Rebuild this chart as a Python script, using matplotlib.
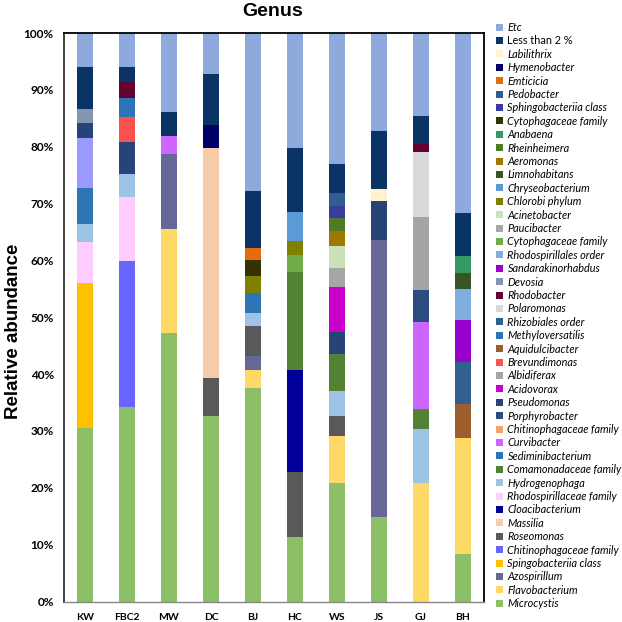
import matplotlib
matplotlib.use("Agg")
import matplotlib.pyplot as plt
from matplotlib.patches import Patch

samples = ["KW", "FBC2", "MW", "DC", "BJ", "HC", "WS", "JS", "GJ", "BH"]

# Legend entries (top to bottom) and colours
legend_keys = [
    "Etc", "Less than 2 %", "Labilithrix", "Hymenobacter", "Emticicia", "Pedobacter",
    "Sphingobacteriia class", "Cytophagaceae family#1", "Anabaena", "Rheinheimera",
    "Aeromonas", "Limnohabitans", "Chryseobacterium", "Chlorobi phylum", "Acinetobacter",
    "Paucibacter", "Cytophagaceae family#2", "Rhodospirillales order", "Sandarakinorhabdus",
    "Devosia", "Rhodobacter", "Polaromonas", "Rhizobiales order", "Methyloversatilis",
    "Aquidulcibacter", "Brevundimonas", "Albidiferax", "Acidovorax", "Pseudomonas",
    "Porphyrobacter", "Chitinophagaceae family#1", "Curvibacter", "Sediminibacterium",
    "Comamonadaceae family", "Hydrogenophaga", "Rhodospirillaceae family", "Cloacibacterium",
    "Massilia", "Roseomonas", "Chitinophagaceae family#2", "Spingobacteriia class",
    "Azospirillum", "Flavobacterium", "Microcystis",
]
legend_colors = [
    "#8EA9DB", "#0B3466", "#FFF2CC", "#000066", "#E46C0A", "#2E5F8F",
    "#3B3BA0", "#333300", "#339966", "#4F7A28",
    "#A07800", "#375623", "#5B9BD5", "#808000", "#C9E2B8",
    "#A6A6A6", "#70AD47", "#7FAFE0", "#9900CC",
    "#8497B0", "#660033", "#D9D9D9", "#2F6090", "#2E75B6",
    "#9A5F2C", "#FF5050", "#A5A5A5", "#CC00CC", "#264478",
    "#2B4C80", "#F4A46C", "#CC66FF", "#2E75B6",
    "#548235", "#9DC3E6", "#FFCCFF", "#000099",
    "#F8CBAD", "#595959", "#6666FF", "#FFC000",
    "#666699", "#FFD966", "#8CC068",
]
unlisted_color = "#9B9BFF"  # segment in KW not shown in the legend

# Segments per sample, bottom to top (relative abundance, %)
KW = [("Microcystis", 30.5), ("Spingobacteriia class", 25.6), ("Rhodospirillaceae family", 7.1),
      ("Hydrogenophaga", 3.2), ("Sediminibacterium", 6.4), ("_unlisted", 8.7),
      ("Pseudomonas", 2.7), ("Devosia", 2.5), ("Less than 2 %", 7.3), ("Etc", 6.0)]
FBC2 = [("Microcystis", 34.3), ("Chitinophagaceae family#2", 25.6), ("Rhodospirillaceae family", 11.2),
        ("Hydrogenophaga", 4.1), ("Pseudomonas", 5.6), ("Brevundimonas", 4.5),
        ("Methyloversatilis", 3.3), ("Rhodobacter", 2.7), ("Less than 2 %", 2.7), ("Etc", 6.0)]
MW = [("Microcystis", 47.3), ("Flavobacterium", 18.3), ("Azospirillum", 13.1),
      ("Curvibacter", 3.2), ("Less than 2 %", 4.2), ("Etc", 13.9)]
DC = [("Microcystis", 32.6), ("Roseomonas", 6.7), ("Massilia", 40.5),
      ("Hymenobacter", 4.1), ("Less than 2 %", 8.9), ("Etc", 7.2)]
BJ = [("Microcystis", 37.6), ("Flavobacterium", 3.2), ("Azospirillum", 2.4), ("Roseomonas", 5.3),
      ("Hydrogenophaga", 2.3), ("Sediminibacterium", 3.4), ("Chlorobi phylum", 3.0),
      ("Cytophagaceae family#1", 2.8), ("Emticicia", 2.1), ("Less than 2 %", 10.1), ("Etc", 27.8)]
HC = [("Microcystis", 11.3), ("Roseomonas", 11.4), ("Cloacibacterium", 18.1),
      ("Comamonadaceae family", 17.2), ("Cytophagaceae family#2", 2.9), ("Chlorobi phylum", 2.5),
      ("Chryseobacterium", 5.1), ("Less than 2 %", 11.3), ("Etc", 20.2)]
WS = [("Microcystis", 20.9), ("Flavobacterium", 8.2), ("Roseomonas", 3.5), ("Hydrogenophaga", 4.4),
      ("Comamonadaceae family", 6.6), ("Pseudomonas", 3.8), ("Acidovorax", 7.9),
      ("Paucibacter", 3.3), ("Acinetobacter", 3.9), ("Aeromonas", 2.7), ("Rheinheimera", 2.2),
      ("Sphingobacteriia class", 2.2), ("Pedobacter", 2.3), ("Less than 2 %", 5.1), ("Etc", 23.0)]
JS = [("Microcystis", 14.8), ("Azospirillum", 48.8), ("Pseudomonas", 6.9),
      ("Labilithrix", 2.0), ("Less than 2 %", 10.3), ("Etc", 17.2)]
GJ = [("Flavobacterium", 20.9), ("Hydrogenophaga", 9.4), ("Comamonadaceae family", 3.6),
      ("Curvibacter", 15.3), ("Porphyrobacter", 5.6), ("Albidiferax", 12.8),
      ("Polaromonas", 11.5), ("Rhodobacter", 1.4), ("Less than 2 %", 4.9), ("Etc", 14.6)]
BH = [("Microcystis", 8.3), ("Flavobacterium", 20.4), ("Aquidulcibacter", 6.1),
      ("Rhizobiales order", 7.3), ("Sandarakinorhabdus", 7.4), ("Rhodospirillales order", 5.4),
      ("Limnohabitans", 2.8), ("Anabaena", 3.0), ("Less than 2 %", 7.7), ("Etc", 31.6)]

sample_segments = [KW, FBC2, MW, DC, BJ, HC, WS, JS, GJ, BH]
y_ticks = [0, 10, 20, 30, 40, 50, 60, 70, 80, 90, 100]

color_of = dict(zip(legend_keys, legend_colors))
color_of["_unlisted"] = unlisted_color

W = 622.0
fig = plt.figure(figsize=(6.22, 6.22), dpi=100)
ax = fig.add_axes([63.5 / W, 1 - 601.5 / W, (484 - 63.5) / W, (601.5 - 33) / W])

for i, segs in enumerate(sample_segments):
    bottom = 0.0
    for key, v in segs:
        ax.bar(i, v, bottom=bottom, width=0.40, color=color_of[key], linewidth=0)
        bottom += v

ax.set_xlim(-0.51, 9.5)
ax.set_ylim(0, 100)
ax.set_yticks(y_ticks)
ax.set_yticklabels([f"{t}%" for t in y_ticks], fontsize=8.5, fontweight="bold", family="Lato")
ax.set_xticks(range(len(samples)))
ax.set_xticklabels(samples, fontsize=7.5, fontweight="bold", family="Lato")
ax.tick_params(axis="both", length=0)
ax.tick_params(axis="x", pad=8)
ax.tick_params(axis="y", pad=7)
for s in ["left", "top", "right"]:
    ax.spines[s].set_color("black")
    ax.spines[s].set_linewidth(1.3)
ax.spines["left"].set_color("#333333")
ax.spines["bottom"].set_color("#888888")
ax.spines["bottom"].set_linewidth(1.0)

ax.set_ylabel("Relative abundance", fontsize=13.5, fontweight="bold", family="Liberation Sans")
ax.yaxis.set_label_coords(-42 / (484 - 63.5), 0.475)
fig.text(273 / W, 1 - 12 / W, "Genus", ha="center", va="center",
         fontsize=14, fontweight="bold", family="Liberation Sans")

handles = []
for key, col in zip(legend_keys, legend_colors):
    label = key.split("#")[0]
    handles.append(Patch(facecolor=col, edgecolor="none", label=label))
leg = fig.legend(handles=handles, loc="upper left", bbox_to_anchor=(496 / W, 1 - 22 / W),
                 frameon=False, labelspacing=0.22, handlelength=0.6,
                 handleheight=0.6, handletextpad=0.45, borderaxespad=0, borderpad=0,
                 prop={"family": "Lato", "size": 7.85, "style": "italic"})
for t in leg.get_texts():
    if t.get_text() == "Less than 2 %":
        t.set_fontstyle("normal")

fig.savefig("out.png", dpi=100)
